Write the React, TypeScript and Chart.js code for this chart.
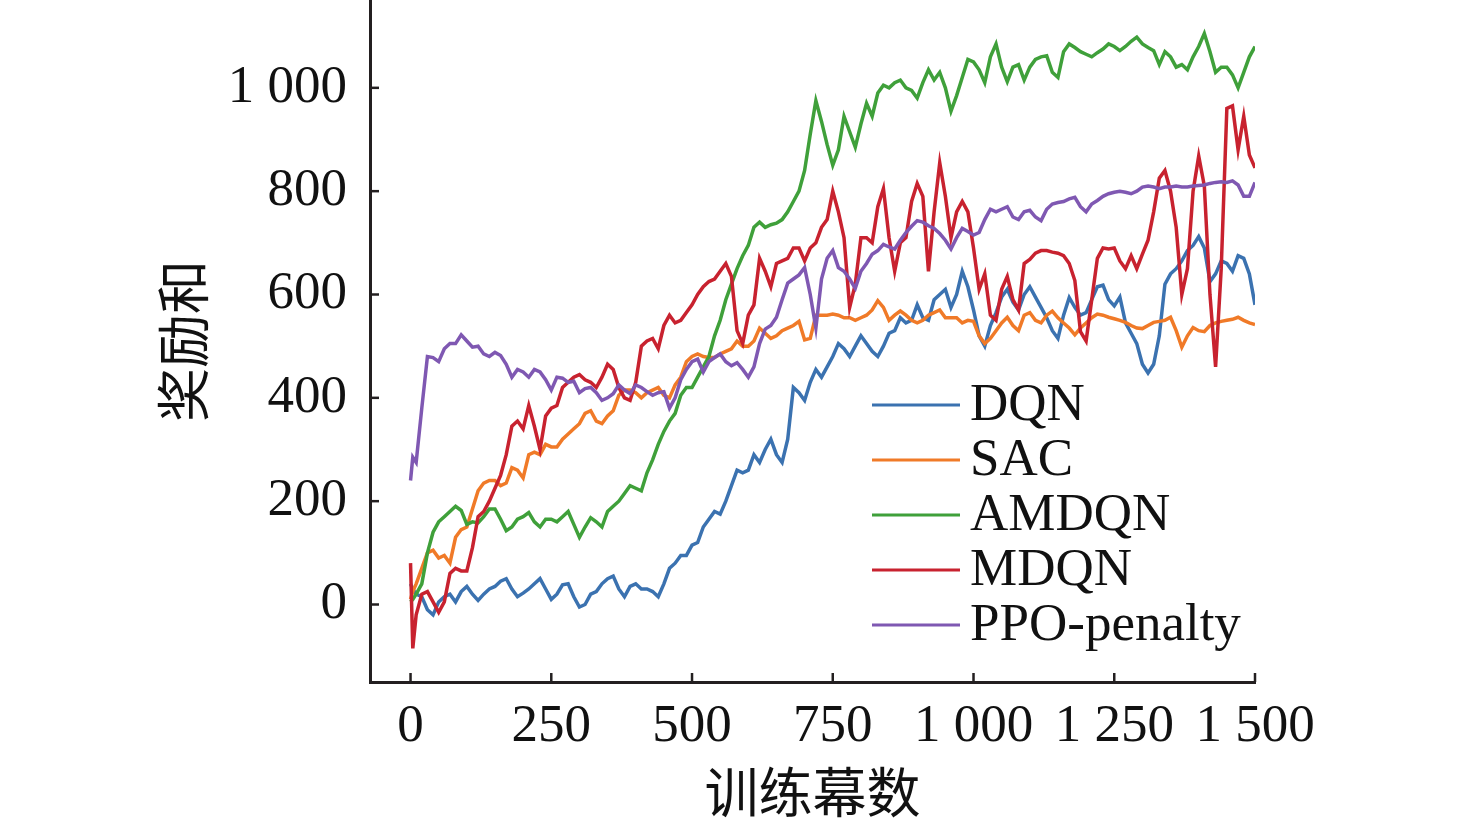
import React, { useEffect, useRef } from 'react';
import { Chart, registerables } from 'chart.js';

Chart.register(...registerables);

const episodes = [
  0, 4,
  10, 20, 30, 40, 50, 60, 70, 80, 90, 100,
  110, 120, 130, 140, 150, 160, 170, 180, 190, 200,
  210, 220, 230, 240, 250, 260, 270, 280, 290, 300,
  310, 320, 330, 340, 350, 360, 370, 380, 390, 400,
  410, 420, 430, 440, 450, 460, 470, 480, 490, 500,
  510, 520, 530, 540, 550, 560, 570, 580, 590, 600,
  610, 620, 630, 640, 650, 660, 670, 680, 690, 700,
  710, 720, 730, 740, 750, 760, 770, 780, 790, 800,
  810, 820, 830, 840, 850, 860, 870, 880, 890, 900,
  910, 920, 930, 940, 950, 960, 970, 980, 990, 1000,
  1010, 1020, 1030, 1040, 1050, 1060, 1070, 1080, 1090, 1100,
  1110, 1120, 1130, 1140, 1150, 1160, 1170, 1180, 1190, 1200,
  1210, 1220, 1230, 1240, 1250, 1260, 1270, 1280, 1290, 1300,
  1310, 1320, 1330, 1340, 1350, 1360, 1370, 1380, 1390, 1400,
  1410, 1420, 1430, 1440, 1450, 1460, 1470, 1480, 1490, 1500,
];

const dqn = [
  40, 30,
  20, 15, -10, -20, 5, 15, 20, 5, 25, 35,
  20, 8, 20, 30, 35, 45, 50, 30, 15, 22,
  30, 40, 50, 30, 10, 20, 38, 40, 15, -5,
  0, 20, 25, 40, 50, 55, 30, 15, 35, 40,
  30, 30, 25, 15, 40, 70, 80, 95, 95, 115,
  120, 150, 165, 180, 175, 200, 230, 260, 255, 260,
  290, 275, 300, 320, 290, 275, 320, 420, 410, 395,
  430, 455, 440, 460, 480, 505, 495, 480, 500, 520,
  505, 490, 480, 500, 525, 530, 555, 545, 550, 580,
  555, 550, 590, 600, 610, 575, 600, 645, 615, 570,
  520, 500, 540, 565, 595, 610, 585, 570, 600, 615,
  595, 575, 555, 530, 515, 560, 594, 575, 560, 565,
  590, 615, 618, 590, 578, 595, 545, 525, 505, 465,
  448, 465, 520, 620, 640, 650, 665, 685, 695, 712,
  690, 625, 640, 665, 660, 645, 675, 670, 640, 580,
];

const sac = [
  10, 25,
  40, 70, 100, 105, 90, 95, 80, 130, 145, 150,
  185, 220, 235, 240, 240, 230, 235, 265, 260, 245,
  290, 295, 290, 310, 305, 305, 320, 330, 340, 350,
  370, 375, 355, 350, 365, 375, 405, 415, 415, 410,
  400, 410, 415, 420, 405, 400, 425, 440, 470, 480,
  485, 480, 478, 478, 485, 490, 495, 510, 500, 500,
  510, 535, 525, 515, 520, 530, 535, 540, 548, 512,
  515, 560, 560, 560, 562, 560, 555, 555, 550, 555,
  560, 570, 588, 575, 550, 560, 568, 560, 550, 545,
  550, 560, 565, 570, 555, 555, 555, 545, 550, 548,
  520, 505, 515, 530, 545, 556, 540, 530, 560, 565,
  550, 545, 560, 568, 555, 545, 535, 522, 535, 545,
  555, 562, 560, 556, 553, 550, 546, 540, 535, 534,
  540, 546, 548, 550, 556, 530, 498, 520, 536, 530,
  528, 540, 545, 548, 550, 552, 556, 550, 545, 542,
];

const amdqn = [
  5, 10,
  20, 40, 100, 140, 160, 170, 180, 190, 182, 155,
  160, 158, 170, 185, 185, 165, 143, 150, 165, 170,
  178, 160, 150, 165, 165, 160, 170, 180, 155, 130,
  150, 168, 160, 150, 180, 190, 200, 215, 230, 225,
  220, 255, 280, 310, 335, 355, 370, 405, 420, 420,
  440, 460, 480, 520, 550, 590, 620, 650, 675, 695,
  730, 740, 730, 735, 738, 745, 760, 780, 800, 840,
  910, 975, 935, 890, 850, 880, 945, 915, 885, 930,
  970, 945, 990, 1005, 1000, 1010, 1015, 1000, 995, 980,
  1010, 1035, 1015, 1030, 1000, 955, 985, 1020, 1055, 1050,
  1035, 1010, 1060, 1085, 1040, 1012, 1040, 1045, 1015, 1040,
  1055, 1060, 1062, 1030, 1020, 1070, 1085, 1078, 1070, 1065,
  1060, 1068, 1075, 1085, 1080, 1072, 1080, 1090, 1098, 1085,
  1078, 1072, 1045, 1070, 1060, 1040, 1045, 1035, 1060, 1080,
  1105, 1070, 1030, 1040, 1040, 1025, 1000, 1030, 1060, 1080,
];

const mdqn = [
  80, -85,
  -20, 20, 25, 5, -15, 5, 60, 70, 65, 65,
  110, 170, 180, 200, 225, 250, 290, 345, 355, 340,
  385, 345, 300, 365, 380, 385, 420, 430, 440, 445,
  435, 430, 420, 440, 465, 455, 420, 400, 395, 430,
  500, 510, 515, 495, 540, 560, 545, 550, 565, 580,
  600, 615, 625, 630, 645, 660, 635, 530, 505, 560,
  580, 670, 645, 615, 660, 665, 670, 690, 690, 665,
  690, 700, 730, 745, 800, 760, 710, 575, 620, 710,
  710, 700, 770, 805, 710, 645, 700, 710, 780, 815,
  790, 645, 760, 855, 790, 710, 760, 780, 760, 690,
  610, 640, 560, 550, 610, 635, 590, 570, 660, 668,
  680, 685, 685, 682, 680, 675, 660, 627, 528, 510,
  590, 670, 690, 688, 690, 665, 650, 675, 650, 678,
  705, 760, 825, 840, 800, 730, 600, 650, 800, 868,
  810, 600, 460, 650, 960, 965, 880, 945, 870, 845,
];

const ppo = [
  240, 285,
  275, 380, 480, 478, 470, 495, 505, 505, 522, 510,
  498, 500, 485, 480, 488, 482, 465, 440, 455, 450,
  440, 455, 450, 435, 415, 440, 438, 430, 432, 410,
  418, 420, 410, 395, 400, 408, 425, 415, 408, 425,
  420, 412, 405, 410, 412, 380, 400, 435, 455, 470,
  475, 450, 470, 478, 485, 470, 462, 468, 455, 440,
  460, 505, 533, 540, 556, 590, 622, 630, 638, 652,
  600, 535, 630, 670, 685, 652, 645, 630, 612, 645,
  660, 678, 685, 697, 692, 688, 705, 720, 732, 743,
  740, 733, 728, 718, 705, 688, 710, 728, 722, 715,
  720, 745, 765, 760, 765, 770, 750, 745, 760, 763,
  750, 743, 765, 775, 778, 780, 785, 788, 770, 760,
  775, 782, 790, 795, 798, 800, 798, 795, 800, 808,
  810, 808, 805, 808, 808, 810, 808, 808, 810, 811,
  812, 815, 817, 818, 817, 820, 812, 790, 790, 817,
];

const seriesNames = ['DQN', 'SAC', 'AMDQN', 'MDQN', 'PPO-penalty'];
const seriesValues = [dqn, sac, amdqn, mdqn, ppo];
const seriesColors = ['#3b72b0', '#f07a28', '#3fa03a', '#c8222f', '#7f58b2'];

const xTickValues = [0, 250, 500, 750, 1000, 1250, 1500];
const yTickValues = [0, 200, 400, 600, 800, 1000];

const xTitle = '训练幕数';
const yTitle = '奖励和';

const AXIS_COLOR = '#231f20';
const FONT_FAMILY = "'Liberation Serif', 'Times New Roman', 'Noto Sans CJK SC', serif";

function formatNumber(v: number): string {
  if (Math.abs(v) >= 1000) {
    const th = Math.floor(v / 1000);
    const rest = String(Math.abs(v) % 1000).padStart(3, '0');
    return `${th} ${rest}`;
  }
  return String(v);
}

const decorPlugin = {
  id: 'decor',
  afterDatasetsDraw(chart: any) {
    const { ctx, chartArea, scales } = chart;
    ctx.save();
    ctx.strokeStyle = AXIS_COLOR;
    ctx.lineWidth = 2.5;
    const tickLen = 9;
    for (const v of xTickValues) {
      const px = scales.x.getPixelForValue(v);
      ctx.beginPath();
      ctx.moveTo(px, chartArea.bottom);
      ctx.lineTo(px, chartArea.bottom - tickLen);
      ctx.stroke();
    }
    for (const v of yTickValues) {
      const py = scales.y.getPixelForValue(v);
      ctx.beginPath();
      ctx.moveTo(chartArea.left, py);
      ctx.lineTo(chartArea.left + tickLen, py);
      ctx.stroke();
    }

    // legend inside plot area
    const lx1 = 872;
    const lx2 = 960;
    const ly0 = 405;
    const dy = 55;
    ctx.font = `53px ${FONT_FAMILY}`;
    ctx.textBaseline = 'middle';
    ctx.textAlign = 'left';
    chart.data.datasets.forEach((ds: any, i: number) => {
      const y = ly0 + i * dy;
      ctx.strokeStyle = ds.borderColor;
      ctx.lineWidth = 3;
      ctx.beginPath();
      ctx.moveTo(lx1, y);
      ctx.lineTo(lx2, y);
      ctx.stroke();
      ctx.fillStyle = '#111111';
      ctx.fillText(ds.label, 970, y + 1);
    });
    ctx.restore();
  },
};

export default function App() {
  const canvasRef = useRef<HTMLCanvasElement | null>(null);

  useEffect(() => {
    if (!canvasRef.current) return;
    const datasets = seriesNames.map((name, i) => ({
      label: name,
      data: episodes.map((x, j) => ({ x, y: seriesValues[i][j] })),
      borderColor: seriesColors[i],
      backgroundColor: seriesColors[i],
      borderWidth: 3.5,
      pointRadius: 0,
      tension: 0,
      fill: false,
      order: seriesNames.length - i,
    }));

    const tickFont = { family: FONT_FAMILY, size: 53 };
    const chart = new Chart(canvasRef.current, {
      type: 'line',
      data: { datasets },
      plugins: [decorPlugin],
      options: {
        animation: false,
        responsive: true,
        maintainAspectRatio: false,
        layout: { padding: { left: 0, right: 221, top: 0, bottom: 0 } },
        plugins: {
          legend: { display: false },
          tooltip: { enabled: false },
        },
        scales: {
          x: {
            type: 'linear',
            min: -72,
            max: 1500,
            afterFit: (s: any) => {
              s.height = 146;
              s.paddingLeft = 0;
              s.paddingRight = 0;
              s.paddingTop = 0;
              s.paddingBottom = 0;
            },
            afterBuildTicks: (s: any) => {
              s.ticks = xTickValues.map((v) => ({ value: v }));
            },
            grid: { display: false, drawTicks: false },
            border: { display: true, color: AXIS_COLOR, width: 3 },
            ticks: {
              color: '#111111',
              font: tickFont,
              padding: 13,
              maxRotation: 0,
              autoSkip: false,
              callback: (v: any) => formatNumber(Number(v)),
            },
            title: {
              display: true,
              text: xTitle,
              color: '#111111',
              font: { family: FONT_FAMILY, size: 54, lineHeight: 1 },
              padding: { top: 0, bottom: 2 },
            },
          },
          y: {
            type: 'linear',
            min: -150,
            max: 1170,
            afterFit: (s: any) => {
              s.width = 370;
              s.paddingLeft = 0;
              s.paddingRight = 0;
              s.paddingTop = 0;
              s.paddingBottom = 0;
            },
            afterBuildTicks: (s: any) => {
              s.ticks = yTickValues.map((v) => ({ value: v }));
            },
            grid: { display: false, drawTicks: false },
            border: { display: true, color: AXIS_COLOR, width: 3 },
            ticks: {
              color: '#111111',
              font: tickFont,
              padding: 23,
              autoSkip: false,
              callback: (v: any) => formatNumber(Number(v)),
            },
            title: {
              display: true,
              text: yTitle,
              color: '#111111',
              font: { family: FONT_FAMILY, size: 54, lineHeight: 1 },
              padding: { top: 163, bottom: 0 },
            },
          },
        },
      },
    });
    return () => {
      chart.destroy();
    };
  }, []);

  return (
    <div
      style={{
        position: 'absolute',
        left: 0,
        top: 0,
        width: 1476,
        height: 828,
        background: '#ffffff',
      }}
    >
      <canvas ref={canvasRef} />
    </div>
  );
}
